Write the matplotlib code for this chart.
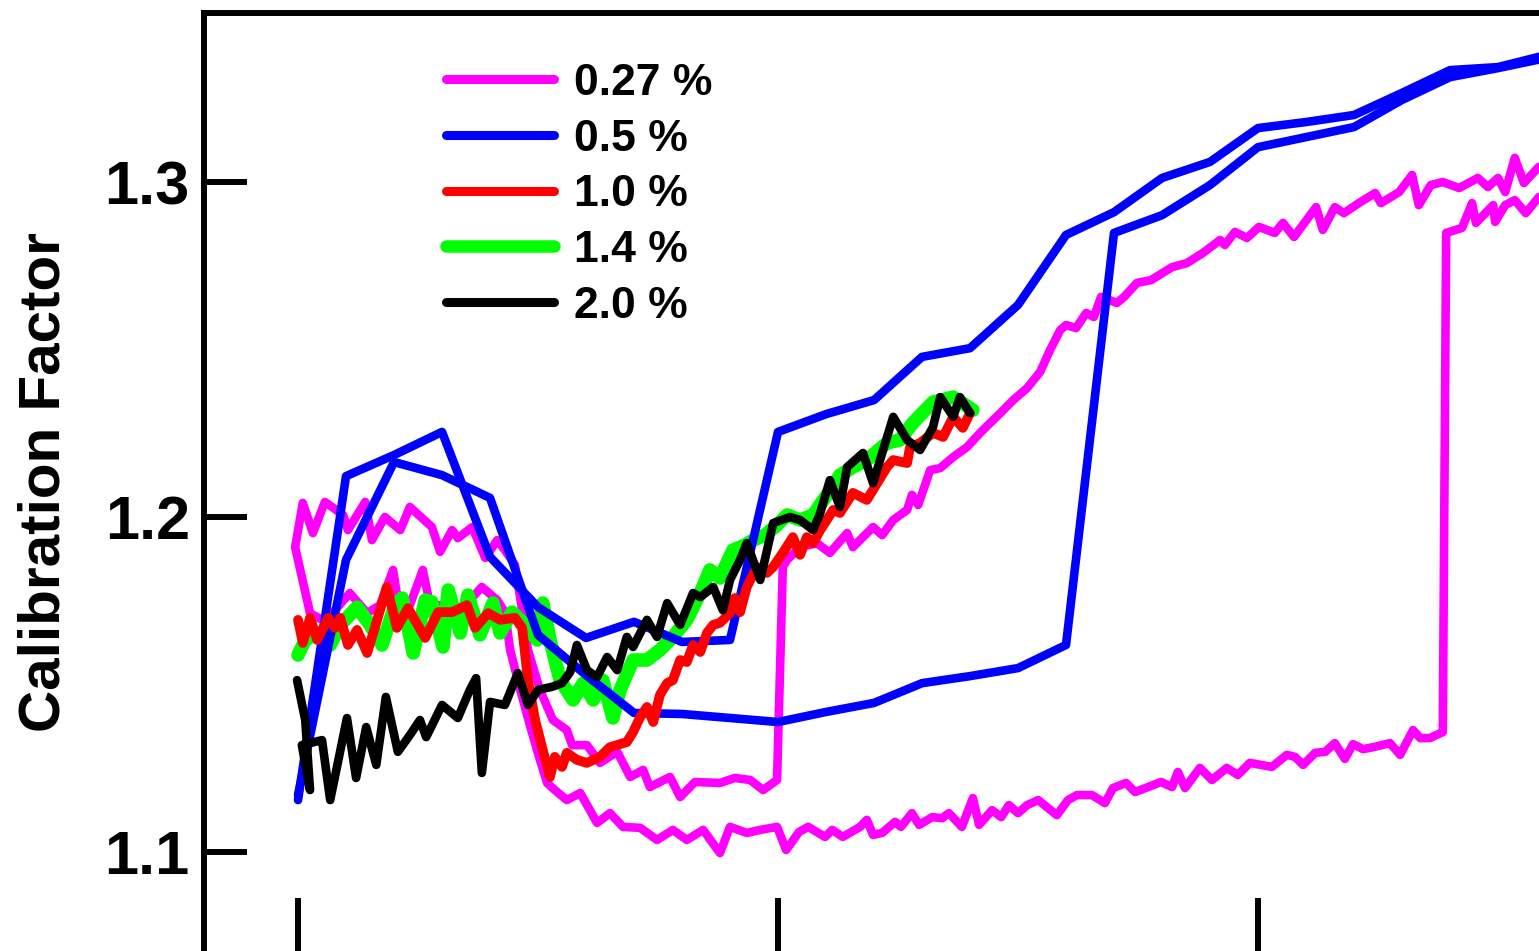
import numpy as np
import matplotlib
matplotlib.use('Agg')
import matplotlib.pyplot as plt

plt.rcParams['font.family'] = ['Liberation Sans', 'DejaVu Sans']
plt.rcParams['font.weight'] = 'bold'

# 0.27 % : two sweeps
mag_a_x = [-0.06, 0.10, 0.31, 0.56, 0.94, 1.04, 1.40, 1.54, 1.81, 2.13, 2.33, 2.79, 2.96, 3.21, 3.33,
           3.63, 3.90, 4.15, 4.31, 4.52, 4.67, 4.79, 5.04, 5.31, 5.60, 5.71, 6.02, 6.29, 6.65, 6.92,
           7.19, 7.33, 7.75, 7.96, 8.27, 8.79, 9.10, 9.42, 9.69, 9.98, 10.10, 10.19, 10.46, 10.81, 11.08,
           11.44, 11.56, 11.98, 12.17, 12.40, 12.69, 12.79, 12.92, 13.17, 13.38, 13.65, 13.94, 14.21, 14.63, 14.90,
           15.19, 15.46, 15.67, 15.88, 16.00, 16.21, 16.42, 16.58, 16.73, 17.06, 17.21, 17.48, 17.77, 18.21, 18.52,
           18.85, 19.21, 19.31, 19.52, 19.77, 20.02, 20.35, 20.52, 20.75, 21.21, 21.35, 21.60, 21.79, 22.10, 22.44,
           22.56, 22.94, 23.21, 23.35, 23.60, 23.85, 24.19, 24.58, 24.79, 25.00, 25.15, 25.35, 25.54, 25.85]
mag_a_y = [1.1910, 1.2042, 1.1952, 1.2045, 1.2006, 1.1961, 1.2045, 1.1931, 1.2000, 1.1961, 1.2030, 1.1970, 1.1896, 1.1961, 1.1937,
           1.1970, 1.1878, 1.1931, 1.1901, 1.1857, 1.1722, 1.1603, 1.1484, 1.1394, 1.1364, 1.1319, 1.1319, 1.1266, 1.1299, 1.1224,
           1.1245, 1.1194, 1.1224, 1.1164, 1.1209, 1.1206, 1.1221, 1.1215, 1.1185, 1.1215, 1.1851, 1.1872, 1.1910, 1.1922, 1.1893,
           1.1952, 1.1910, 1.1970, 1.1946, 1.1991, 1.2021, 1.2066, 1.2036, 1.2140, 1.2146, 1.2179, 1.2209, 1.2251, 1.2310, 1.2349,
           1.2385, 1.2433, 1.2499, 1.2558, 1.2573, 1.2564, 1.2609, 1.2597, 1.2657, 1.2639, 1.2657, 1.2699, 1.2707, 1.2746, 1.2758,
           1.2788, 1.2827, 1.2812, 1.2851, 1.2833, 1.2866, 1.2848, 1.2878, 1.2836, 1.2925, 1.2857, 1.2925, 1.2907, 1.2937, 1.2967,
           1.2937, 1.2970, 1.3021, 1.2931, 1.2991, 1.3000, 1.2982, 1.3012, 1.2985, 1.3012, 1.2970, 1.3072, 1.2997, 1.3045]
mag_b_x = [-0.06, 0.25, 0.50, 0.77, 1.08, 1.44, 1.71, 1.98, 2.13, 2.33, 2.60, 2.75, 3.06, 3.38, 3.58,
           3.83, 4.15, 4.31, 4.42, 4.63, 4.83, 5.04, 5.19, 5.35, 5.60, 5.88, 6.23, 6.50, 6.77, 7.13,
           7.48, 7.81, 8.10, 8.44, 8.79, 9.00, 9.35, 9.63, 9.98, 10.17, 10.44, 10.63, 10.98, 11.13, 11.35,
           11.71, 11.85, 11.98, 12.17, 12.44, 12.56, 12.79, 12.94, 13.21, 13.42, 13.56, 13.83, 14.06, 14.19, 14.46,
           14.65, 14.81, 15.00, 15.19, 15.42, 15.81, 16.04, 16.23, 16.54, 16.81, 16.98, 17.25, 17.44, 17.98, 18.21,
           18.33, 18.48, 18.79, 19.04, 19.35, 19.58, 19.83, 20.29, 20.60, 20.77, 20.94, 21.19, 21.40, 21.60, 21.81,
           21.98, 22.19, 22.40, 22.75, 22.96, 23.23, 23.38, 23.58, 23.85, 23.92, 24.25, 24.46, 24.54, 24.90, 24.94,
           25.15, 25.35, 25.58, 25.85]
mag_b_y = [1.1910, 1.1713, 1.1693, 1.1722, 1.1773, 1.1713, 1.1737, 1.1842, 1.1707, 1.1737, 1.1842, 1.1737, 1.1737, 1.1722, 1.1752,
           1.1791, 1.1752, 1.1716, 1.1603, 1.1484, 1.1379, 1.1275, 1.1206, 1.1185, 1.1155, 1.1176, 1.1087, 1.1116, 1.1075, 1.1072,
           1.1036, 1.1066, 1.1036, 1.1066, 1.0997, 1.1075, 1.1057, 1.1066, 1.1075, 1.1006, 1.1060, 1.1075, 1.1045, 1.1066, 1.1045,
           1.1075, 1.1096, 1.1051, 1.1057, 1.1090, 1.1075, 1.1116, 1.1081, 1.1104, 1.1101, 1.1116, 1.1075, 1.1161, 1.1081, 1.1125,
           1.1104, 1.1140, 1.1116, 1.1140, 1.1155, 1.1110, 1.1155, 1.1170, 1.1170, 1.1146, 1.1191, 1.1206, 1.1179, 1.1209, 1.1194,
           1.1239, 1.1191, 1.1251, 1.1215, 1.1251, 1.1230, 1.1266, 1.1254, 1.1290, 1.1284, 1.1260, 1.1296, 1.1299, 1.1325, 1.1278,
           1.1322, 1.1307, 1.1313, 1.1325, 1.1290, 1.1364, 1.1340, 1.1340, 1.1358, 1.2848, 1.2863, 1.2937, 1.2878, 1.2931, 1.2881,
           1.2931, 1.2946, 1.2907, 1.2955]

# 0.5 % : one reading per step
blue_x = np.arange(27)
blue_a_y = [1.1155, 1.2122, 1.2185, 1.2254, 1.1881, 1.1731, 1.1639, 1.1687, 1.1627, 1.1633, 1.2254, 1.2307, 1.2349, 1.2478,
            1.2504, 1.2633, 1.2842, 1.2910, 1.3012, 1.3060, 1.3161, 1.3179, 1.3200, 1.3266, 1.3334, 1.3343, 1.3379]
blue_b_y = [1.1170, 1.1872, 1.2164, 1.2125, 1.2057, 1.1648, 1.1528, 1.1415, 1.1412, 1.1400, 1.1388, 1.1418, 1.1445, 1.1504,
            1.1525, 1.1549, 1.1618, 1.2848, 1.2901, 1.2991, 1.3104, 1.3134, 1.3164, 1.3245, 1.3313, 1.3340, 1.3370]

# 1.0 %
red_x = [0.00, 0.10, 0.25, 0.40, 0.63, 0.77, 0.88, 1.04, 1.23, 1.44, 1.60, 1.85, 2.06, 2.29, 2.65, 2.92, 3.21, 3.52, 3.69,
         3.96, 4.21, 4.52, 4.67, 4.79, 4.94, 5.10, 5.25, 5.35, 5.50, 5.60, 5.81, 6.02, 6.29, 6.50, 6.85, 6.98, 7.13, 7.27,
         7.40, 7.54, 7.69, 7.81, 7.96, 8.10, 8.23, 8.38, 8.52, 8.65, 8.79, 9.00, 9.10, 9.21, 9.35, 9.56, 9.77, 9.90, 10.10,
         10.31, 10.46, 10.60, 10.73, 10.88, 11.15, 11.29, 11.56, 11.85, 11.98, 12.27, 12.40, 12.69, 12.75, 12.96, 13.23,
         13.44, 13.65, 13.85, 14.00]
red_y = [1.1693, 1.1624, 1.1699, 1.1633, 1.1699, 1.1669, 1.1699, 1.1618, 1.1663, 1.1594, 1.1669, 1.1791, 1.1669, 1.1728,
         1.1639, 1.1716, 1.1716, 1.1737, 1.1669, 1.1713, 1.1693, 1.1699, 1.1669, 1.1513, 1.1394, 1.1304, 1.1224, 1.1284,
         1.1254, 1.1296, 1.1275, 1.1266, 1.1284, 1.1313, 1.1328, 1.1358, 1.1403, 1.1433, 1.1388, 1.1469, 1.1504, 1.1513,
         1.1573, 1.1567, 1.1618, 1.1597, 1.1654, 1.1678, 1.1684, 1.1713, 1.1758, 1.1716, 1.1791, 1.1851, 1.1833, 1.1851,
         1.1893, 1.1940, 1.1887, 1.1940, 1.1922, 1.1961, 1.2021, 1.2012, 1.2072, 1.2051, 1.2081, 1.2149, 1.2170, 1.2161,
         1.2209, 1.2221, 1.2251, 1.2239, 1.2299, 1.2266, 1.2310]

# 1.4 %
green_x = [0.00, 0.15, 0.40, 0.67, 0.88, 1.23, 1.50, 1.75, 2.02, 2.17, 2.40, 2.65, 2.79, 3.02, 3.13, 3.38, 3.54, 3.79,
           4.06, 4.21, 4.46, 4.73, 4.98, 5.10, 5.25, 5.46, 5.73, 5.94, 6.15, 6.35, 6.56, 6.71, 6.98, 7.27, 7.54, 7.81,
           8.10, 8.38, 8.58, 8.79, 9.06, 9.31, 9.48, 9.73, 9.98, 10.19, 10.46, 10.73, 11.02, 11.29, 11.56, 11.85, 12.27,
           12.54, 12.81, 13.23, 13.65, 14.06]
green_y = [1.1588, 1.1633, 1.1654, 1.1618, 1.1678, 1.1731, 1.1678, 1.1618, 1.1737, 1.1758, 1.1594, 1.1752, 1.1746, 1.1612,
           1.1782, 1.1654, 1.1767, 1.1648, 1.1743, 1.1654, 1.1716, 1.1678, 1.1633, 1.1743, 1.1633, 1.1513, 1.1454, 1.1504,
           1.1454, 1.1513, 1.1400, 1.1484, 1.1573, 1.1573, 1.1603, 1.1642, 1.1693, 1.1773, 1.1842, 1.1818, 1.1901, 1.1916,
           1.1931, 1.1946, 1.1976, 1.2006, 1.1991, 1.2006, 1.2066, 1.2125, 1.2149, 1.2170, 1.2221, 1.2230, 1.2281, 1.2343,
           1.2358, 1.2319]

# 2.0 %
black_x = [-0.02, 0.15, 0.25, 0.08, 0.50, 0.67, 1.02, 1.21, 1.42, 1.63, 1.83, 2.08, 2.33, 2.54, 2.67, 3.00, 3.33, 3.58,
           3.71, 3.83, 4.00, 4.31, 4.58, 4.79, 5.00, 5.29, 5.50, 5.67, 5.81, 6.02, 6.23, 6.44, 6.65, 6.85, 6.98, 7.27,
           7.48, 7.69, 7.96, 8.23, 8.38, 8.65, 8.85, 9.00, 9.21, 9.35, 9.63, 9.90, 10.25, 10.46, 10.73, 10.88, 11.08,
           11.29, 11.44, 11.77, 11.98, 12.40, 12.69, 12.96, 13.23, 13.38, 13.65, 13.79, 14.00]
black_y = [1.1513, 1.1394, 1.1185, 1.1319, 1.1334, 1.1155, 1.1400, 1.1221, 1.1373, 1.1260, 1.1463, 1.1299, 1.1349, 1.1394,
           1.1343, 1.1439, 1.1400, 1.1484, 1.1519, 1.1236, 1.1448, 1.1439, 1.1534, 1.1439, 1.1484, 1.1493, 1.1504, 1.1537,
           1.1618, 1.1543, 1.1522, 1.1582, 1.1543, 1.1642, 1.1612, 1.1693, 1.1642, 1.1743, 1.1678, 1.1773, 1.1761, 1.1791,
           1.1722, 1.1812, 1.1872, 1.1922, 1.1812, 1.1982, 1.2000, 1.1991, 1.1961, 1.2012, 1.2110, 1.2030, 1.2149, 1.2191,
           1.2101, 1.2299, 1.2230, 1.2200, 1.2269, 1.2358, 1.2299, 1.2358, 1.2310]

W, H = 1539, 951
fig = plt.figure(figsize=(W / 100, H / 100), dpi=100)
# the frame runs past the right and bottom edges of the canvas
ax = fig.add_axes([203.7 / W, 1 - 953 / H, (1570 - 203.7) / W, 940 / H])

style = dict(solid_joinstyle='round', solid_capstyle='round')
ax.plot(mag_a_x, mag_a_y, color='#ff00ff', lw=6.2, zorder=2, label='0.27 %', **style)
ax.plot(mag_b_x, mag_b_y, color='#ff00ff', lw=6.2, zorder=2, **style)
ax.plot(blue_x, blue_a_y, color='#0000ff', lw=6.2, zorder=4, label='0.5 %', **style)
ax.plot(blue_x, blue_b_y, color='#0000ff', lw=6.2, zorder=4, **style)
ax.plot(red_x, red_y, color='#ff0000', lw=7.0, zorder=5, label='1.0 %', **style)
ax.plot(green_x, green_y, color='#00ff00', lw=9.8, zorder=3, label='1.4 %', **style)
ax.plot(black_x, black_y, color='black', lw=6.2, zorder=6, label='2.0 %', **style)

ax.set_xlim(-1.965, 26.5)
ax.set_ylim(1.06985, 1.35045)
ax.set_xticks([0, 10, 20])
ax.set_yticks([1.1, 1.2, 1.3])
ax.set_yticklabels(['1.1', '1.2', '1.3'])
ax.tick_params(axis='y', direction='in', length=31, width=4.3, pad=10, labelsize=44)
ax.tick_params(axis='x', direction='in', length=39.6, width=4.3, labelbottom=False)
for sp in ax.spines.values():
    sp.set_linewidth(4.3)
    sp.set_joinstyle('round')

ax.set_ylabel('Calibration Factor', fontsize=42, fontweight='bold')
ax.yaxis.set_label_coords(-0.0964, 0.501)

leg = ax.legend(loc='upper left', bbox_to_anchor=((446 - 203.7) / 1366.3, (953 - 63) / 940),
                frameon=False, fontsize=32, handlelength=2.42, handletextpad=0.45,
                labelspacing=0.33, borderpad=0, borderaxespad=0)
for line, w in zip(leg.get_lines(), [6.5, 6.5, 6.5, 9.0, 6.5]):
    line.set_linewidth(w)
    line.set_solid_capstyle('round')

fig.savefig('out.png', dpi=100)
